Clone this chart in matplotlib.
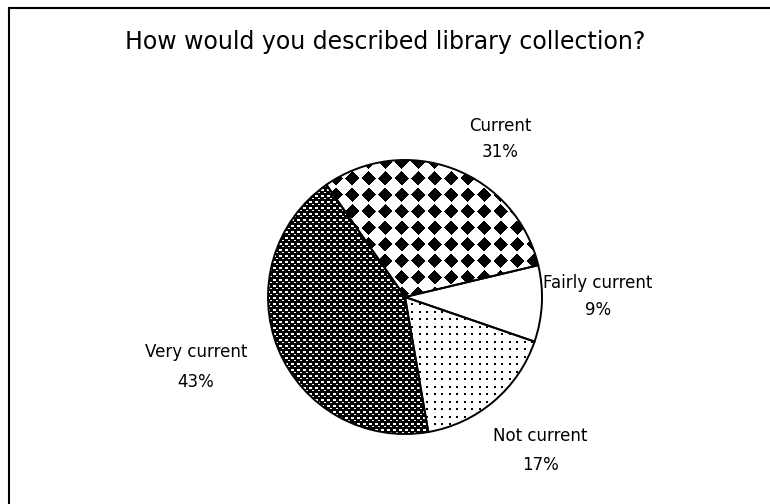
import numpy as np
import matplotlib.pyplot as plt
from matplotlib.lines import Line2D

title = "How would you described library collection?"
labels = ["Current", "Fairly current", "Not current", "Very current"]
shares = [31, 9, 17, 43]

W, H = 770, 504
# label anchor positions in pixels (x, y of name line, y of percent line)
label_pos = [(500, 126, 152), (598, 283, 310), (540, 436, 465), (196, 352, 382)]


def diamonds(n, period=16.5, size=7.0):
    y, x = np.indices((n, n)).astype(float)
    dx = (x % period) - period / 2
    dy = (y % period) - period / 2
    return np.where(np.abs(dx) + np.abs(dy) <= size, 0.0, 1.0)


def dashes(n):
    y, x = np.indices((n, n))
    white = ((y % 6 < 2) & (x % 6 < 3)) | ((y % 6 == 3) & ((x + 3) % 6 < 2))
    return np.where(white, 1.0, 0.0)


def dots(n, period=7.5):
    y, x = np.indices((n, n)).astype(float)
    dot = ((x % period) < 2) & ((y % period) < 2)
    return np.where(dot, 0.0, 1.0)


def main():
    fig = plt.figure(figsize=(W / 100, H / 100), dpi=100)
    fig.patch.set_facecolor("white")

    cx, cy, r = 405, 297, 137
    lim = 1.05
    side = 2 * r * lim
    ax = fig.add_axes([(cx - r * lim) / W, (H - cy - r * lim) / H, side / W, side / H])

    wedges, _ = ax.pie(shares, startangle=125, counterclock=False,
                       colors=["white"] * len(shares), wedgeprops=dict(linewidth=0))

    n = int(round(side))
    textures = [diamonds(n), None, dots(n), dashes(n)]
    for wedge, tex in zip(wedges, textures):
        if tex is None:
            continue
        im = ax.imshow(tex, cmap="gray", vmin=0, vmax=1, extent=(-lim, lim, -lim, lim),
                       interpolation="nearest", zorder=2)
        im.set_clip_path(wedge)

    outlines, _ = ax.pie(shares, startangle=125, counterclock=False,
                         wedgeprops=dict(fill=False, edgecolor="black", linewidth=1.4))
    for w in outlines:
        w.set_zorder(3)
        w.set_clip_on(False)

    ax.set_xlim(-lim, lim)
    ax.set_ylim(-lim, lim)
    ax.axis("off")

    for name, value, (x, y1, y2) in zip(labels, shares, label_pos):
        fig.text(x / W, 1 - y1 / H, name, ha="center", va="center", fontsize=12)
        fig.text(x / W, 1 - y2 / H, f"{value}%", ha="center", va="center", fontsize=12)

    fig.text(385 / W, 1 - 42 / H, title, ha="center", va="center", fontsize=17)

    # frame lines on top and left only
    fig.add_artist(Line2D([8.5 / W, 1], [1 - 8 / H, 1 - 8 / H], color="black", lw=1.5))
    fig.add_artist(Line2D([9 / W, 9 / W], [0, 1 - 8 / H], color="black", lw=1.5))

    plt.savefig("out.png", dpi=100)
    plt.close()


if __name__ == "__main__":
    main()
